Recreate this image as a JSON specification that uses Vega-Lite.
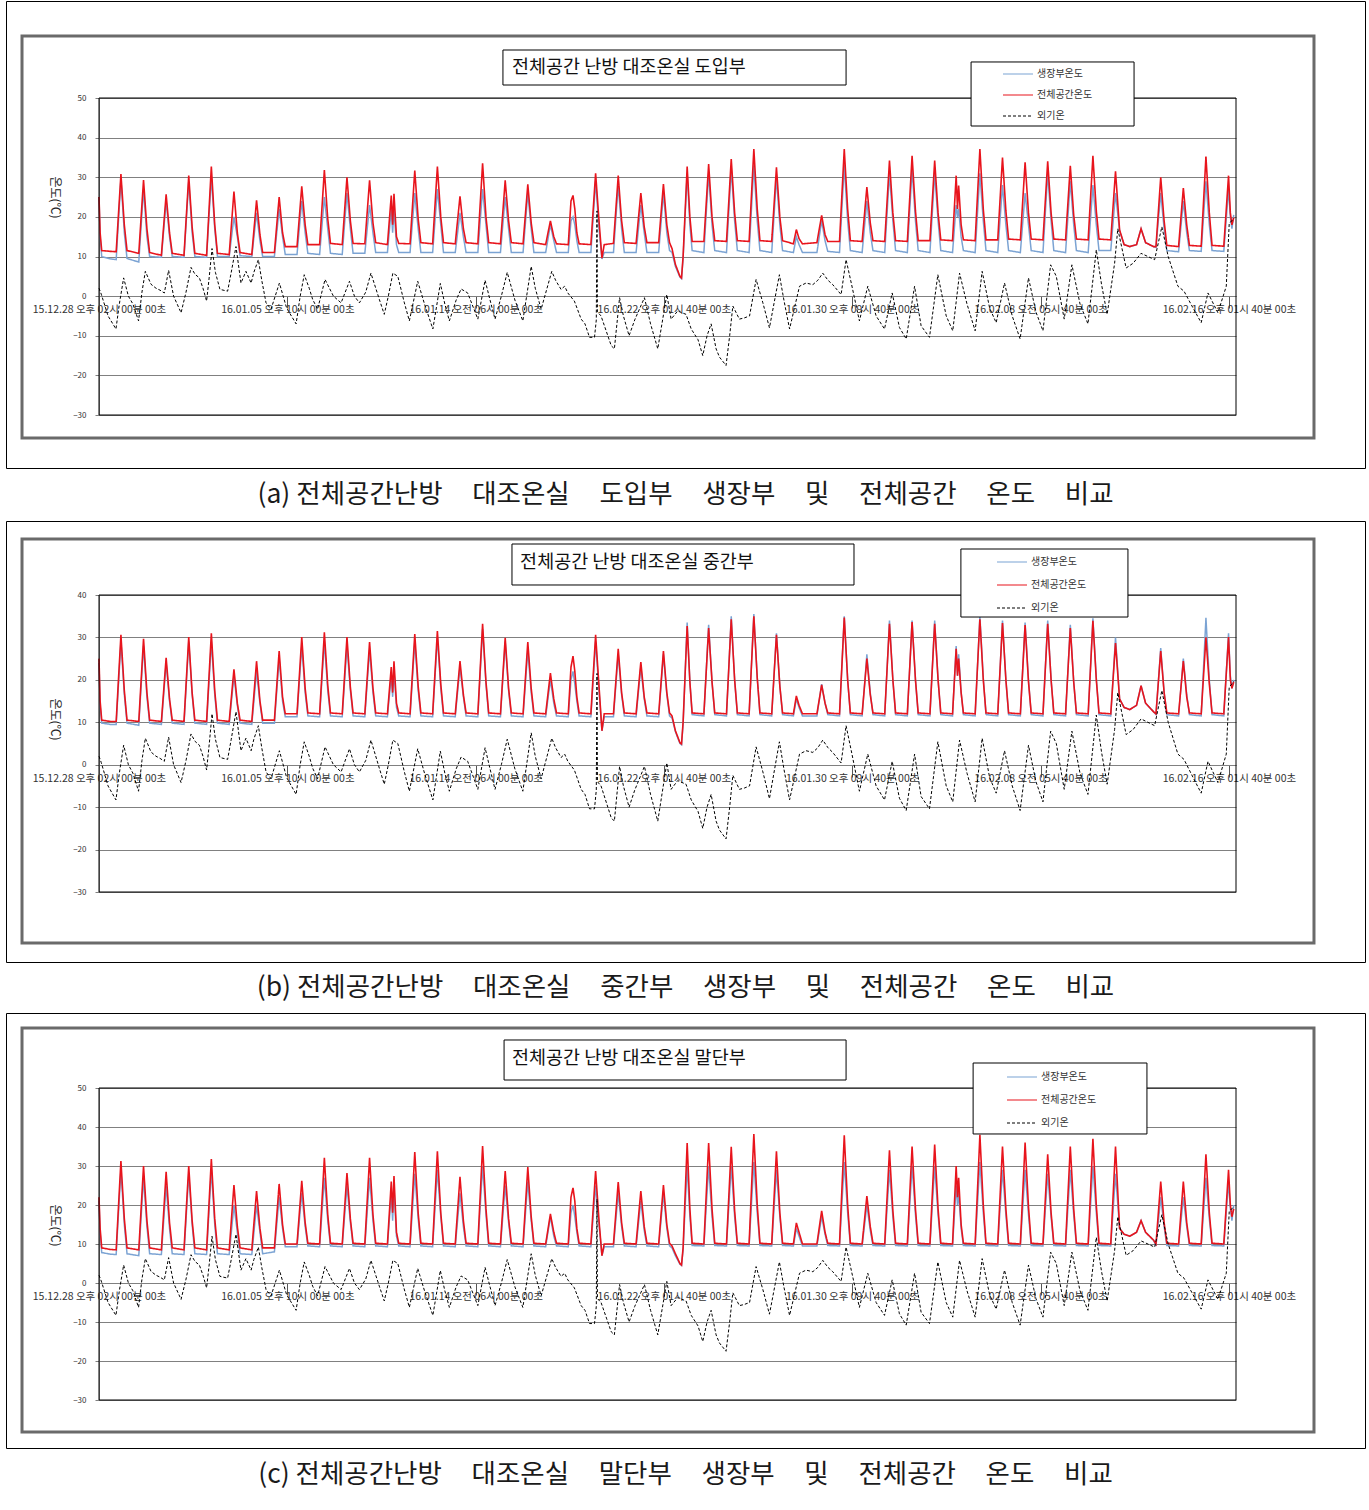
{
"$schema": "https://vega.github.io/schema/vega-lite/v6.json",
"background": "white",
"padding": {"left": 5, "right": 5, "top": 0, "bottom": 10},
"bounds": "flush",
"spacing": 0,
"config": {"font": "Noto Sans CJK KR", "view": {"stroke": "#000000", "strokeWidth": 1}},
"resolve": {"scale": {"color": "independent", "strokeDash": "independent"}, "legend": {"color": "independent", "strokeDash": "independent"}},
"datasets": {
"indoor": [
{"t":0,"ar":25,"ab":25,"br":25,"bb":24,"cr":22,"cb":21},
{"t":0.05,"ar":16,"ab":15,"br":15,"bb":14,"cr":14,"cb":13},
{"t":0.12,"ar":11.5,"ab":10,"br":10.5,"bb":9.8,"cr":9,"cb":7.8},
{"t":0.5,"ar":11.3,"ab":9.4,"br":10.2,"bb":9.5,"cr":8.6,"cb":7.4},
{"t":0.76,"ar":11.2,"ab":9.2,"br":10.2,"bb":9.5,"cr":8.5,"cb":7.3},
{"t":0.97,"ar":30.8,"ab":29.5,"br":30.6,"bb":29,"cr":31.3,"cb":29},
{"t":1.12,"ar":18,"ab":16,"br":17.5,"bb":16.5,"cr":16.5,"cb":15},
{"t":1.24,"ar":11.5,"ab":9.5,"br":10.5,"bb":9.8,"cr":9,"cb":7.5},
{"t":1.76,"ar":10.8,"ab":8.6,"br":10.2,"bb":9.3,"cr":8.5,"cb":7},
{"t":1.97,"ar":29.3,"ab":27,"br":29.7,"bb":28,"cr":30,"cb":27},
{"t":2.12,"ar":17,"ab":15,"br":17,"bb":16,"cr":16,"cb":14.5},
{"t":2.24,"ar":11,"ab":10,"br":10.5,"bb":9.8,"cr":9,"cb":7.5},
{"t":2.76,"ar":10.3,"ab":9.8,"br":10.2,"bb":9.5,"cr":8.5,"cb":7.3},
{"t":2.97,"ar":25.7,"ab":24,"br":25.2,"bb":24,"cr":28.5,"cb":25},
{"t":3.12,"ar":16,"ab":15,"br":15.5,"bb":15,"cr":15.5,"cb":14},
{"t":3.24,"ar":10.8,"ab":10,"br":10.5,"bb":9.8,"cr":9,"cb":7.5},
{"t":3.76,"ar":10.3,"ab":9.8,"br":10.2,"bb":9.5,"cr":8.5,"cb":7.3},
{"t":3.97,"ar":30.4,"ab":29,"br":30.1,"bb":29,"cr":30,"cb":28},
{"t":4.12,"ar":17.5,"ab":16,"br":17,"bb":16.5,"cr":16,"cb":15},
{"t":4.24,"ar":10.8,"ab":10,"br":10.5,"bb":9.8,"cr":9,"cb":7.5},
{"t":4.76,"ar":10.3,"ab":9.8,"br":10.2,"bb":9.5,"cr":8.5,"cb":7.3},
{"t":4.97,"ar":32.7,"ab":30,"br":31,"bb":29,"cr":31.8,"cb":29},
{"t":5.12,"ar":18,"ab":17,"br":17.5,"bb":16.5,"cr":16.5,"cb":15},
{"t":5.24,"ar":10.8,"ab":10,"br":10.5,"bb":9.8,"cr":9,"cb":7.5},
{"t":5.76,"ar":10.5,"ab":10,"br":10.2,"bb":9.5,"cr":8.5,"cb":7.3},
{"t":5.97,"ar":26.4,"ab":20,"br":22.5,"bb":21,"cr":25.1,"cb":20},
{"t":6.12,"ar":16,"ab":15,"br":14.5,"bb":14,"cr":14.5,"cb":13},
{"t":6.24,"ar":11,"ab":10.2,"br":10.5,"bb":9.8,"cr":9,"cb":7.5},
{"t":6.76,"ar":10.5,"ab":10,"br":10.2,"bb":9.5,"cr":8.5,"cb":7.3},
{"t":6.97,"ar":24.2,"ab":21,"br":24.4,"bb":22,"cr":23.6,"cb":20},
{"t":7.12,"ar":15.5,"ab":14,"br":15,"bb":14.5,"cr":14,"cb":13},
{"t":7.24,"ar":11,"ab":10,"br":10.5,"bb":9.8,"cr":9,"cb":7.5},
{"t":7.76,"ar":11,"ab":10,"br":10.5,"bb":9.8,"cr":9,"cb":8},
{"t":7.97,"ar":25,"ab":22,"br":26.8,"bb":25,"cr":25.4,"cb":22},
{"t":8.12,"ar":16,"ab":15,"br":16,"bb":15,"cr":15,"cb":14},
{"t":8.24,"ar":12.5,"ab":10.5,"br":12,"bb":11.3,"cr":10,"cb":9.3},
{"t":8.76,"ar":12.5,"ab":10.5,"br":12,"bb":11.3,"cr":10,"cb":9.3},
{"t":8.97,"ar":27.7,"ab":24,"br":30.1,"bb":28,"cr":26.2,"cb":23},
{"t":9.12,"ar":18,"ab":16,"br":18,"bb":17,"cr":15.5,"cb":14.5},
{"t":9.24,"ar":13,"ab":10.8,"br":12.2,"bb":11.5,"cr":10.2,"cb":9.5},
{"t":9.76,"ar":13,"ab":10.5,"br":12,"bb":11.3,"cr":10,"cb":9.3},
{"t":9.97,"ar":31.8,"ab":25,"br":31.2,"bb":29,"cr":32.1,"cb":27},
{"t":10.12,"ar":19.5,"ab":17,"br":18.7,"bb":17.5,"cr":17.5,"cb":16},
{"t":10.24,"ar":13.3,"ab":10.8,"br":12.2,"bb":11.5,"cr":10.2,"cb":9.5},
{"t":10.76,"ar":13,"ab":10.5,"br":12,"bb":11.3,"cr":10,"cb":9.3},
{"t":10.97,"ar":30,"ab":26,"br":30.1,"bb":28,"cr":28.2,"cb":25},
{"t":11.12,"ar":19,"ab":17,"br":18.3,"bb":17.5,"cr":16.5,"cb":15.5},
{"t":11.24,"ar":13.3,"ab":10.8,"br":12.2,"bb":11.5,"cr":10.2,"cb":9.5},
{"t":11.76,"ar":13.2,"ab":10.8,"br":12,"bb":11.3,"cr":10,"cb":9.3},
{"t":11.97,"ar":29.2,"ab":23,"br":28.9,"bb":27,"cr":32.1,"cb":27},
{"t":12.12,"ar":18.5,"ab":16,"br":18,"bb":17,"cr":17.5,"cb":16},
{"t":12.24,"ar":13.5,"ab":11,"br":12.2,"bb":11.5,"cr":10.2,"cb":9.5},
{"t":12.76,"ar":13,"ab":11,"br":12,"bb":11.3,"cr":10,"cb":9.3},
{"t":12.93,"ar":25.4,"ab":22,"br":23,"bb":21,"cr":26,"cb":23},
{"t":12.99,"ar":18,"ab":16,"br":17,"bb":16,"cr":18,"cb":16},
{"t":13.05,"ar":25.8,"ab":22,"br":24.4,"bb":22,"cr":27.4,"cb":24},
{"t":13.16,"ar":15,"ab":13,"br":14.5,"bb":13.5,"cr":13,"cb":12},
{"t":13.26,"ar":13.3,"ab":11,"br":12.2,"bb":11.5,"cr":10.2,"cb":9.5},
{"t":13.76,"ar":13.2,"ab":11,"br":12,"bb":11.3,"cr":10,"cb":9.3},
{"t":13.97,"ar":31.7,"ab":26,"br":30.8,"bb":29,"cr":33.6,"cb":28},
{"t":14.12,"ar":19.5,"ab":17,"br":18.5,"bb":17.5,"cr":18,"cb":16.5},
{"t":14.24,"ar":13.5,"ab":11,"br":12.2,"bb":11.5,"cr":10.2,"cb":9.5},
{"t":14.76,"ar":13.2,"ab":11,"br":12,"bb":11.3,"cr":10,"cb":9.3},
{"t":14.97,"ar":32.7,"ab":27,"br":31.5,"bb":30,"cr":33.8,"cb":29},
{"t":15.12,"ar":20,"ab":18,"br":19,"bb":18,"cr":18,"cb":17},
{"t":15.24,"ar":13.5,"ab":11,"br":12.2,"bb":11.5,"cr":10.2,"cb":9.5},
{"t":15.76,"ar":13.2,"ab":11,"br":12,"bb":11.3,"cr":10,"cb":9.3},
{"t":15.97,"ar":25.2,"ab":21,"br":24.4,"bb":23,"cr":27.2,"cb":23},
{"t":16.12,"ar":17,"ab":15,"br":16.5,"bb":16,"cr":16,"cb":14.5},
{"t":16.24,"ar":13.5,"ab":11,"br":12.2,"bb":11.5,"cr":10.2,"cb":9.5},
{"t":16.76,"ar":13.2,"ab":11,"br":12,"bb":11.3,"cr":10,"cb":9.3},
{"t":16.97,"ar":33.5,"ab":27,"br":33.2,"bb":32,"cr":35.1,"cb":30},
{"t":17.12,"ar":20,"ab":18,"br":19.5,"bb":19,"cr":19,"cb":17.5},
{"t":17.24,"ar":13.5,"ab":11,"br":12.2,"bb":11.5,"cr":10.2,"cb":9.5},
{"t":17.76,"ar":13.2,"ab":11,"br":12,"bb":11.3,"cr":10,"cb":9.3},
{"t":17.97,"ar":29.2,"ab":25,"br":29.9,"bb":29,"cr":28.7,"cb":25},
{"t":18.12,"ar":19,"ab":17,"br":18,"bb":17.5,"cr":16.5,"cb":15.5},
{"t":18.24,"ar":13.5,"ab":11,"br":12.2,"bb":11.5,"cr":10.2,"cb":9.5},
{"t":18.76,"ar":13.2,"ab":11,"br":12,"bb":11.3,"cr":10,"cb":9.3},
{"t":18.97,"ar":28.2,"ab":26,"br":28.9,"bb":27,"cr":29.7,"cb":26},
{"t":19.12,"ar":18.5,"ab":17,"br":18,"bb":17,"cr":17,"cb":16},
{"t":19.24,"ar":13.5,"ab":11,"br":12.2,"bb":11.5,"cr":10.2,"cb":9.5},
{"t":19.76,"ar":13,"ab":11,"br":12,"bb":11.3,"cr":10,"cb":9.3},
{"t":19.97,"ar":19,"ab":18,"br":21.6,"bb":20,"cr":17.7,"cb":17},
{"t":20.12,"ar":15,"ab":14,"br":15.5,"bb":14.5,"cr":13,"cb":12},
{"t":20.24,"ar":13.2,"ab":11,"br":12.2,"bb":11.5,"cr":10.2,"cb":9.5},
{"t":20.76,"ar":13,"ab":11,"br":12,"bb":11.3,"cr":10,"cb":9.3},
{"t":20.88,"ar":24,"ab":19,"br":23,"bb":20,"cr":22,"cb":18},
{"t":20.97,"ar":25.4,"ab":20,"br":25.6,"bb":22,"cr":24.4,"cb":20},
{"t":21.05,"ar":22,"ab":18,"br":22,"bb":19,"cr":21,"cb":17},
{"t":21.14,"ar":16,"ab":14,"br":16,"bb":15,"cr":14,"cb":13},
{"t":21.24,"ar":13.2,"ab":11,"br":12.2,"bb":11.5,"cr":10.2,"cb":9.5},
{"t":21.76,"ar":13,"ab":11,"br":12,"bb":11.3,"cr":10,"cb":9.3},
{"t":21.97,"ar":31,"ab":29,"br":30.6,"bb":29,"cr":28.7,"cb":25},
{"t":22.12,"ar":19,"ab":17,"br":18.5,"bb":17.5,"cr":16,"cb":15},
{"t":22.25,"ar":9.6,"ab":9.4,"br":8,"bb":8,"cr":7,"cb":7},
{"t":22.35,"ar":13,"ab":11,"br":12,"bb":11.3,"cr":10,"cb":9.3},
{"t":22.76,"ar":13.3,"ab":11,"br":12,"bb":11.3,"cr":10,"cb":9.3},
{"t":22.97,"ar":30.4,"ab":28,"br":27.3,"bb":26,"cr":25.9,"cb":23},
{"t":23.12,"ar":19,"ab":17,"br":17,"bb":16.5,"cr":15.5,"cb":14.5},
{"t":23.24,"ar":13.5,"ab":11,"br":12.2,"bb":11.5,"cr":10.2,"cb":9.5},
{"t":23.76,"ar":13.3,"ab":11,"br":12,"bb":11.3,"cr":10,"cb":9.3},
{"t":23.97,"ar":26,"ab":23,"br":24.2,"bb":23,"cr":23.6,"cb":21},
{"t":24.12,"ar":17.5,"ab":16,"br":16,"bb":15.5,"cr":14.5,"cb":13.5},
{"t":24.24,"ar":13.5,"ab":11,"br":12.2,"bb":11.5,"cr":10.2,"cb":9.5},
{"t":24.76,"ar":13.5,"ab":11,"br":12,"bb":11.3,"cr":10,"cb":9.3},
{"t":24.97,"ar":28.3,"ab":26,"br":26.8,"bb":26,"cr":25.1,"cb":23},
{"t":25.12,"ar":18,"ab":16,"br":17,"bb":16.5,"cr":15,"cb":14},
{"t":25.24,"ar":13.5,"ab":11.5,"br":12.2,"bb":11.5,"cr":10.2,"cb":9.5},
{"t":25.35,"ar":12,"ab":11,"br":11.5,"bb":11,"cr":9.5,"cb":9},
{"t":25.5,"ar":8,"ab":7.5,"br":8,"bb":7.8,"cr":7.5,"cb":7},
{"t":25.7,"ar":5,"ab":4.8,"br":5.2,"bb":5,"cr":5,"cb":4.8},
{"t":25.77,"ar":4.6,"ab":4.4,"br":4.9,"bb":4.7,"cr":4.6,"cb":4.5},
{"t":25.84,"ar":10,"ab":9.5,"br":10,"bb":9.5,"cr":9,"cb":8.5},
{"t":26.02,"ar":32.7,"ab":31,"br":32.7,"bb":33.5,"cr":35.9,"cb":30},
{"t":26.14,"ar":20,"ab":18,"br":19.5,"bb":19.5,"cr":19,"cb":17},
{"t":26.24,"ar":13.8,"ab":11.5,"br":12.2,"bb":11.8,"cr":10.2,"cb":9.6},
{"t":26.76,"ar":13.8,"ab":11,"br":12,"bb":11.5,"cr":10,"cb":9.5},
{"t":26.97,"ar":33.3,"ab":31,"br":32.2,"bb":33,"cr":35.9,"cb":30},
{"t":27.12,"ar":20,"ab":18,"br":19.5,"bb":19.5,"cr":19,"cb":17},
{"t":27.24,"ar":14,"ab":11.5,"br":12.2,"bb":11.8,"cr":10.2,"cb":9.6},
{"t":27.76,"ar":13.8,"ab":11,"br":12,"bb":11.5,"cr":10,"cb":9.5},
{"t":27.97,"ar":34.6,"ab":32,"br":34.3,"bb":35,"cr":34.9,"cb":30},
{"t":28.12,"ar":21,"ab":19,"br":20,"bb":20,"cr":18.5,"cb":17},
{"t":28.24,"ar":14,"ab":11.5,"br":12.2,"bb":11.8,"cr":10.2,"cb":9.6},
{"t":28.76,"ar":13.8,"ab":11,"br":12,"bb":11.5,"cr":10,"cb":9.5},
{"t":28.97,"ar":37.1,"ab":33,"br":35,"bb":35.5,"cr":38.2,"cb":31},
{"t":29.12,"ar":22,"ab":19,"br":20.5,"bb":20.5,"cr":20,"cb":18},
{"t":29.24,"ar":14,"ab":11.5,"br":12.2,"bb":11.8,"cr":10.2,"cb":9.6},
{"t":29.76,"ar":13.8,"ab":11,"br":12,"bb":11.5,"cr":10,"cb":9.5},
{"t":29.97,"ar":32.5,"ab":30,"br":30.6,"bb":31,"cr":33.8,"cb":29},
{"t":30.12,"ar":20,"ab":18,"br":18.5,"bb":18.5,"cr":18,"cb":17},
{"t":30.24,"ar":14,"ab":11.5,"br":12.2,"bb":11.8,"cr":10.2,"cb":9.6},
{"t":30.72,"ar":13.2,"ab":11,"br":12,"bb":11.5,"cr":10,"cb":9.5},
{"t":30.85,"ar":16.8,"ab":15,"br":16.2,"bb":15.5,"cr":15.4,"cb":14},
{"t":30.97,"ar":14.5,"ab":13,"br":14,"bb":13.5,"cr":13,"cb":12},
{"t":31.12,"ar":13.2,"ab":11,"br":12,"bb":11.5,"cr":10,"cb":9.5},
{"t":31.76,"ar":13.5,"ab":11,"br":12,"bb":11.5,"cr":10,"cb":9.5},
{"t":31.97,"ar":20.4,"ab":19,"br":18.8,"bb":19,"cr":18.5,"cb":17},
{"t":32.12,"ar":15.5,"ab":14,"br":14.5,"bb":14.5,"cr":13,"cb":12.5},
{"t":32.24,"ar":13.8,"ab":11.3,"br":12.2,"bb":11.8,"cr":10.2,"cb":9.6},
{"t":32.76,"ar":13.8,"ab":11,"br":12,"bb":11.5,"cr":10,"cb":9.5},
{"t":32.97,"ar":37.1,"ab":33,"br":34.7,"bb":35,"cr":37.9,"cb":31},
{"t":33.12,"ar":22,"ab":19,"br":20,"bb":20,"cr":20,"cb":18},
{"t":33.24,"ar":14,"ab":11.5,"br":12.2,"bb":11.8,"cr":10.2,"cb":9.6},
{"t":33.76,"ar":13.8,"ab":11,"br":12,"bb":11.5,"cr":10,"cb":9.5},
{"t":33.97,"ar":27.5,"ab":24,"br":25,"bb":26,"cr":22.3,"cb":20},
{"t":34.12,"ar":18.5,"ab":16,"br":16.5,"bb":17,"cr":14.5,"cb":13.5},
{"t":34.24,"ar":14,"ab":11.5,"br":12.2,"bb":11.8,"cr":10.2,"cb":9.6},
{"t":34.76,"ar":13.8,"ab":11,"br":12,"bb":11.5,"cr":10,"cb":9.5},
{"t":34.97,"ar":34.2,"ab":31,"br":33.2,"bb":34,"cr":34,"cb":29},
{"t":35.12,"ar":21,"ab":19,"br":20,"bb":20,"cr":18.5,"cb":17},
{"t":35.24,"ar":14,"ab":11.5,"br":12.2,"bb":11.8,"cr":10.2,"cb":9.6},
{"t":35.76,"ar":13.8,"ab":11,"br":12,"bb":11.5,"cr":10,"cb":9.5},
{"t":35.97,"ar":35.4,"ab":32,"br":33.6,"bb":34,"cr":35,"cb":30},
{"t":36.12,"ar":21.5,"ab":19,"br":20,"bb":20,"cr":19,"cb":17.5},
{"t":36.24,"ar":14,"ab":11.5,"br":12.2,"bb":11.8,"cr":10.2,"cb":9.6},
{"t":36.76,"ar":14,"ab":11,"br":12,"bb":11.5,"cr":10,"cb":9.5},
{"t":36.97,"ar":34.2,"ab":31,"br":33.2,"bb":34,"cr":35.5,"cb":30},
{"t":37.12,"ar":21,"ab":19,"br":20,"bb":20,"cr":19,"cb":17.5},
{"t":37.24,"ar":14.2,"ab":11.5,"br":12.2,"bb":11.8,"cr":10.2,"cb":9.6},
{"t":37.76,"ar":14,"ab":11,"br":12,"bb":11.5,"cr":10,"cb":9.5},
{"t":37.92,"ar":30.4,"ab":23,"br":27.3,"bb":28,"cr":30,"cb":25},
{"t":37.98,"ar":22,"ab":20,"br":21,"bb":21,"cr":22,"cb":20},
{"t":38.03,"ar":27.9,"ab":22,"br":25,"bb":26,"cr":27,"cb":23},
{"t":38.14,"ar":18,"ab":15,"br":17,"bb":17,"cr":15,"cb":14},
{"t":38.24,"ar":14.2,"ab":11.5,"br":12.2,"bb":11.8,"cr":10.2,"cb":9.6},
{"t":38.76,"ar":14,"ab":11,"br":12,"bb":11.5,"cr":10,"cb":9.5},
{"t":38.97,"ar":37.1,"ab":31,"br":34.3,"bb":35,"cr":38,"cb":31},
{"t":39.12,"ar":22,"ab":19,"br":20,"bb":20.5,"cr":20,"cb":18},
{"t":39.24,"ar":14.2,"ab":11.5,"br":12.2,"bb":11.8,"cr":10.2,"cb":9.6},
{"t":39.76,"ar":14.2,"ab":11,"br":12,"bb":11.5,"cr":10,"cb":9.5},
{"t":39.97,"ar":35,"ab":28,"br":33.4,"bb":34,"cr":35,"cb":29},
{"t":40.12,"ar":21.5,"ab":18,"br":20,"bb":20,"cr":19,"cb":17.5},
{"t":40.24,"ar":14.4,"ab":11.5,"br":12.2,"bb":11.8,"cr":10.2,"cb":9.6},
{"t":40.76,"ar":14.2,"ab":11,"br":12,"bb":11.5,"cr":10,"cb":9.5},
{"t":40.97,"ar":33.8,"ab":26,"br":32.9,"bb":33.5,"cr":36,"cb":29},
{"t":41.12,"ar":21,"ab":18,"br":19.5,"bb":20,"cr":19.5,"cb":17.5},
{"t":41.24,"ar":14.4,"ab":11.5,"br":12.2,"bb":11.8,"cr":10.2,"cb":9.6},
{"t":41.76,"ar":14.2,"ab":11,"br":12,"bb":11.5,"cr":10,"cb":9.5},
{"t":41.97,"ar":34,"ab":31,"br":33.2,"bb":34,"cr":33,"cb":28},
{"t":42.12,"ar":21,"ab":19,"br":20,"bb":20,"cr":18,"cb":17},
{"t":42.24,"ar":14.4,"ab":11.5,"br":12.2,"bb":11.8,"cr":10.2,"cb":9.6},
{"t":42.76,"ar":14.2,"ab":11,"br":12,"bb":11.5,"cr":10,"cb":9.5},
{"t":42.97,"ar":32.9,"ab":29,"br":32.2,"bb":33,"cr":35,"cb":29},
{"t":43.12,"ar":20.5,"ab":18,"br":19.5,"bb":19.5,"cr":19,"cb":17.5},
{"t":43.24,"ar":14.4,"ab":11.5,"br":12.2,"bb":11.8,"cr":10.2,"cb":9.6},
{"t":43.76,"ar":14.2,"ab":11,"br":12,"bb":11.5,"cr":10,"cb":9.5},
{"t":43.97,"ar":35.4,"ab":28,"br":33.9,"bb":34.5,"cr":37,"cb":30},
{"t":44.12,"ar":21.5,"ab":18,"br":20,"bb":20.5,"cr":20,"cb":18},
{"t":44.24,"ar":14.4,"ab":11.5,"br":12.2,"bb":11.8,"cr":10.2,"cb":9.6},
{"t":44.76,"ar":14.2,"ab":11.5,"br":12,"bb":11.5,"cr":10,"cb":9.5},
{"t":44.97,"ar":31.5,"ab":26,"br":28.7,"bb":30,"cr":35,"cb":28},
{"t":45.15,"ar":16.7,"ab":16.5,"br":15.5,"bb":15.5,"cr":14,"cb":14},
{"t":45.35,"ar":13,"ab":13,"br":13.5,"bb":13.5,"cr":12.5,"cb":12.5},
{"t":45.6,"ar":12.5,"ab":12.5,"br":13,"bb":13,"cr":12,"cb":12},
{"t":45.9,"ar":13,"ab":13,"br":14,"bb":14,"cr":13,"cb":13},
{"t":46.1,"ar":17,"ab":17,"br":18.6,"bb":18.6,"cr":16,"cb":16},
{"t":46.3,"ar":13.5,"ab":13.5,"br":14.5,"bb":14.5,"cr":13,"cb":13},
{"t":46.65,"ar":12.5,"ab":12.5,"br":12.5,"bb":12.5,"cr":11,"cb":11},
{"t":46.76,"ar":12.5,"ab":12.3,"br":12,"bb":11.8,"cr":10,"cb":9.5},
{"t":46.97,"ar":30,"ab":26,"br":26.8,"bb":27.5,"cr":26,"cb":22},
{"t":47.12,"ar":19,"ab":17,"br":17,"bb":17,"cr":15.5,"cb":14.5},
{"t":47.24,"ar":12.8,"ab":11.5,"br":12.2,"bb":11.8,"cr":10.2,"cb":9.6},
{"t":47.76,"ar":12.5,"ab":11.2,"br":12,"bb":11.5,"cr":10,"cb":9.5},
{"t":47.97,"ar":27.3,"ab":24,"br":24.4,"bb":25,"cr":26,"cb":22},
{"t":48.12,"ar":18,"ab":16,"br":16,"bb":16.5,"cr":15.5,"cb":14.5},
{"t":48.24,"ar":12.8,"ab":11.5,"br":12.2,"bb":11.8,"cr":10.2,"cb":9.6},
{"t":48.76,"ar":12.6,"ab":11.3,"br":12,"bb":11.5,"cr":10,"cb":9.5},
{"t":48.97,"ar":35.2,"ab":29,"br":30,"bb":34.6,"cr":33,"cb":27},
{"t":49.12,"ar":21,"ab":18,"br":19,"bb":20,"cr":18,"cb":16.5},
{"t":49.24,"ar":12.8,"ab":11.5,"br":12.2,"bb":11.8,"cr":10.2,"cb":9.6},
{"t":49.76,"ar":12.6,"ab":11.3,"br":12,"bb":11.5,"cr":10,"cb":9.5},
{"t":49.97,"ar":30.4,"ab":27,"br":30.1,"bb":31,"cr":29,"cb":26},
{"t":50.05,"ar":21,"ab":20,"br":20,"bb":21,"cr":20,"cb":19},
{"t":50.12,"ar":18,"ab":17,"br":18,"bb":18,"cr":17,"cb":16},
{"t":50.2,"ar":19.8,"ab":20.5,"br":19.5,"bb":20,"cr":19,"cb":20}
],
"outdoor": [
{"t":0,"v":2},{"t":0.1,"v":0.5},{"t":0.4,"v":-5},{"t":0.75,"v":-8.3},{"t":0.9,"v":-2},{"t":1.09,"v":4.6},{"t":1.3,"v":0},{"t":1.5,"v":-2},{"t":1.75,"v":-6.25},{"t":1.9,"v":1},
{"t":2.05,"v":6.25},{"t":2.3,"v":3},{"t":2.52,"v":2},{"t":2.7,"v":1.5},{"t":2.89,"v":0.8},{"t":3.08,"v":6.5},{"t":3.3,"v":0},{"t":3.63,"v":-4.2},{"t":3.85,"v":1},{"t":4.07,"v":7.25},
{"t":4.25,"v":5.5},{"t":4.44,"v":4.6},{"t":4.6,"v":2},{"t":4.76,"v":-1.25},{"t":4.88,"v":5},{"t":5.0,"v":12},{"t":5.15,"v":6},{"t":5.35,"v":1.7},{"t":5.69,"v":1.25},{"t":5.85,"v":6},
{"t":6.06,"v":12.5},{"t":6.28,"v":3.3},{"t":6.5,"v":6.25},{"t":6.73,"v":3.3},{"t":6.85,"v":6},{"t":7.05,"v":9.2},{"t":7.2,"v":4},{"t":7.39,"v":-1.7},{"t":7.61,"v":-3.3},{"t":7.98,"v":3.3},
{"t":8.3,"v":-3},{"t":8.72,"v":-7},{"t":8.9,"v":0},{"t":9.08,"v":5.4},{"t":9.3,"v":2},{"t":9.45,"v":-0.8},{"t":9.67,"v":-3.3},{"t":10.0,"v":4.2},{"t":10.37,"v":0},{"t":10.71,"v":-1.7},
{"t":11.08,"v":3.75},{"t":11.3,"v":0},{"t":11.52,"v":-1.7},{"t":11.8,"v":1},{"t":12.03,"v":5.8},{"t":12.4,"v":-0.8},{"t":12.62,"v":-4.6},{"t":12.8,"v":0},{"t":13.0,"v":5.8},{"t":13.22,"v":5},
{"t":13.5,"v":-1.5},{"t":13.73,"v":-6.25},{"t":14.1,"v":3.75},{"t":14.4,"v":-2},{"t":14.77,"v":-8.3},{"t":15.1,"v":3.2},{"t":15.3,"v":-2},{"t":15.5,"v":-6.25},{"t":15.8,"v":-1},{"t":16.02,"v":1.8},
{"t":16.31,"v":0.8},{"t":16.5,"v":-2},{"t":16.76,"v":-5.8},{"t":17.08,"v":4},{"t":17.3,"v":-1},{"t":17.52,"v":-5.8},{"t":17.8,"v":0},{"t":18.06,"v":6},{"t":18.4,"v":-1},{"t":18.75,"v":-6.25},
{"t":19.12,"v":7.5},{"t":19.3,"v":2},{"t":19.56,"v":-3.3},{"t":20.03,"v":6.25},{"t":20.2,"v":4},{"t":20.44,"v":1.7},{"t":20.6,"v":2.5},{"t":20.74,"v":0.8},{"t":21.03,"v":-1.25},{"t":21.33,"v":-5.8},
{"t":21.5,"v":-7},{"t":21.7,"v":-10.4},{"t":21.92,"v":-10.4},{"t":22.0,"v":-6},{"t":22.03,"v":21.5},{"t":22.05,"v":-4},{"t":22.21,"v":-5},{"t":22.45,"v":-9},{"t":22.66,"v":-12.5},{"t":22.8,"v":-13.3},
{"t":23.03,"v":-0.4},{"t":23.2,"v":-5},{"t":23.45,"v":-10},{"t":23.7,"v":-6},{"t":24.13,"v":-0.4},{"t":24.4,"v":-7},{"t":24.72,"v":-13.3},{"t":25.12,"v":0.4},{"t":25.31,"v":-5.8},{"t":25.6,"v":-3.75},
{"t":25.97,"v":-4.6},{"t":26.2,"v":-8.3},{"t":26.5,"v":-11},{"t":26.71,"v":-15},{"t":26.9,"v":-10},{"t":27.08,"v":-7},{"t":27.3,"v":-13.3},{"t":27.45,"v":-15.4},{"t":27.74,"v":-17.5},{"t":27.9,"v":-10},
{"t":28.04,"v":-2.5},{"t":28.33,"v":-5.8},{"t":28.55,"v":-5.5},{"t":28.78,"v":-5},{"t":29.07,"v":4.2},{"t":29.37,"v":-1.7},{"t":29.66,"v":-8},{"t":30.1,"v":5.4},{"t":30.3,"v":-1},{"t":30.55,"v":-8.3},
{"t":30.99,"v":2.5},{"t":31.28,"v":3.3},{"t":31.58,"v":2.9},{"t":31.8,"v":4},{"t":32.02,"v":5.8},{"t":32.25,"v":4},{"t":32.46,"v":2.9},{"t":32.83,"v":0.4},{"t":33.05,"v":9.2},{"t":33.28,"v":3.3},
{"t":33.64,"v":-6.25},{"t":34.01,"v":2.5},{"t":34.38,"v":-5},{"t":34.75,"v":-8.3},{"t":35.09,"v":0.8},{"t":35.41,"v":-7.9},{"t":35.71,"v":-10.8},{"t":36.08,"v":2.5},{"t":36.37,"v":-7.5},{"t":36.74,"v":-10.4},
{"t":37.11,"v":5.4},{"t":37.48,"v":-5},{"t":37.77,"v":-8.75},{"t":38.07,"v":5.8},{"t":38.4,"v":-2},{"t":38.76,"v":-8.75},{"t":39.07,"v":6.25},{"t":39.4,"v":-3},{"t":39.69,"v":-6.7},{"t":40.06,"v":3.3},
{"t":40.4,"v":-5},{"t":40.75,"v":-10.8},{"t":41.12,"v":4.6},{"t":41.45,"v":-4},{"t":41.76,"v":-8.75},{"t":42.1,"v":7.9},{"t":42.35,"v":5},{"t":42.7,"v":-5.8},{"t":43.04,"v":7.9},{"t":43.4,"v":-2},
{"t":43.75,"v":-7},{"t":44.12,"v":11.7},{"t":44.35,"v":3},{"t":44.6,"v":-4.6},{"t":44.93,"v":8.3},{"t":45.07,"v":17},{"t":45.44,"v":7.1},{"t":45.75,"v":8.3},{"t":46.1,"v":10.8},{"t":46.7,"v":9.2},
{"t":47.02,"v":17.5},{"t":47.3,"v":10},{"t":47.73,"v":2.5},{"t":48.0,"v":1.25},{"t":48.4,"v":-3},{"t":48.76,"v":-6.7},{"t":49.06,"v":0.8},{"t":49.5,"v":-4.2},{"t":49.87,"v":2.5},{"t":50.0,"v":18.3},{"t":50.2,"v":19.6}
]
},
"vconcat": [
{
"width": 1359, "height": 467,
"layer": [
{"data": {"name": "indoor"}, "mark": {"type": "line", "strokeWidth": 1.5},
 "encoding": {
  "x": {"field": "t", "type": "quantitative", "scale": {"domain": [0, 50.3], "range": [93, 1230], "nice": false, "zero": false},
   "axis": {"values": [0, 8.3333, 16.6667, 24.9861, 33.3194, 41.6528, 49.9861], "labelExpr": "datum.value < 4 ? '15.12.28 오후 02시 00분 00초' : datum.value < 12 ? '16.01.05 오후 10시 00분 00초' : datum.value < 20 ? '16.01.14 오전 06시 00분 00초' : datum.value < 29 ? '16.01.22 오후 01시 40분 00초' : datum.value < 37 ? '16.01.30 오후 09시 40분 00초' : datum.value < 45 ? '16.02.08 오전 05시 40분 00초' : '16.02.16 오후 01시 40분 00초'", "offset": -172, "grid": false, "domainColor": "#808080", "tickColor": "#555555", "tickSize": 12, "labelPadding": -4, "labelFontSize": 10.5, "labelColor": "#333333", "labelFlush": false, "labelOverlap": false, "labelBound": false, "title": ""}},
  "y": {"field": "ab", "type": "quantitative", "scale": {"domain": [-30, 50], "range": [414, 97], "nice": false, "zero": false},
   "axis": {"values": [-30, -20, -10, 0, 10, 20, 30, 40, 50], "offset": -93, "grid": true, "gridColor": "#808080", "domainColor": "#808080", "tickColor": "#808080", "tickSize": 4, "labelFontSize": 8, "labelColor": "#333333", "labelPadding": 9, "labelFlush": false, "title": "온도(℃)", "titleAngle": 90, "titleX": -45, "titleY": 196, "titleFontSize": 12, "titleFontWeight": "normal", "titleColor": "#222222", "titleAlign": "center", "titleBaseline": "middle"}},
  "color": {"datum": "생장부온도", "type": "nominal", "scale": {"domain": ["생장부온도", "전체공간온도", "외기온"], "range": ["#7ba3d3", "#e8141c", "#000000"]},
   "legend": {"orient": "none", "legendX": 996, "legendY": 57, "title": null, "symbolType": "stroke", "symbolSize": 900, "symbolStrokeWidth": 1.2, "labelFontSize": 10, "labelColor": "#333333", "rowPadding": 0, "labelOffset": 3, "padding": 0}},
  "strokeDash": {"datum": "생장부온도", "type": "nominal", "scale": {"domain": ["생장부온도", "전체공간온도", "외기온"], "range": [[1, 0], [1, 0], [3, 2]]}}
 }},
{"data": {"name": "indoor"}, "mark": {"type": "line", "strokeWidth": 1.6},
 "encoding": {"x": {"field": "t", "type": "quantitative"}, "y": {"field": "ar", "type": "quantitative"},
  "color": {"datum": "전체공간온도", "type": "nominal"}, "strokeDash": {"datum": "전체공간온도", "type": "nominal"}}},
{"data": {"name": "outdoor"}, "mark": {"type": "line", "strokeWidth": 1},
 "encoding": {"x": {"field": "t", "type": "quantitative"}, "y": {"field": "v", "type": "quantitative"},
  "color": {"datum": "외기온", "type": "nominal"}, "strokeDash": {"datum": "외기온", "type": "nominal"}}},
{"data": {"values": [{}]}, "mark": {"type": "rect", "filled": false, "stroke": "#6a6a6a", "strokeWidth": 3},
 "encoding": {"x": {"datum": -3.406, "type": "quantitative"}, "x2": {"datum": 53.75}, "y": {"datum": 65.65, "type": "quantitative"}, "y2": {"datum": -35.8}}},
{"data": {"values": [{}]}, "mark": {"type": "rect", "filled": false, "stroke": "#000000", "strokeWidth": 1},
 "encoding": {"x": {"datum": 0, "type": "quantitative"}, "x2": {"datum": 50.3}, "y": {"datum": -30, "type": "quantitative"}, "y2": {"datum": 50}}},
{"data": {"values": [{}]}, "mark": {"type": "rect", "fill": "white", "stroke": "#000000", "strokeWidth": 1},
 "encoding": {"x": {"datum": 17.87, "type": "quantitative"}, "x2": {"datum": 33.05}, "y": {"datum": 62.11, "type": "quantitative"}, "y2": {"datum": 53.28}}},
{"data": {"values": [{"label": "전체공간 난방 대조온실 도입부"}]}, "mark": {"type": "text", "align": "left", "baseline": "middle", "fontSize": 18.5, "color": "#111111"},
 "encoding": {"x": {"datum": 18.27, "type": "quantitative"}, "y": {"datum": 57.7, "type": "quantitative"}, "text": {"field": "label"}}},
{"data": {"values": [{}]}, "mark": {"type": "rect", "fill": "white", "stroke": "#000000", "strokeWidth": 1},
 "encoding": {"x": {"datum": 38.58, "type": "quantitative"}, "x2": {"datum": 45.79}, "y": {"datum": 59.09, "type": "quantitative"}, "y2": {"datum": 42.93}}}
]
},
{"width": 1359, "height": 53, "data": {"values": [{"c": "(a)  전체공간난방 \u00a0\u00a0\u00a0\u00a0대조온실 \u00a0\u00a0\u00a0\u00a0도입부 \u00a0\u00a0\u00a0\u00a0생장부 \u00a0\u00a0\u00a0\u00a0및 \u00a0\u00a0\u00a0\u00a0전체공간 \u00a0\u00a0\u00a0\u00a0온도 \u00a0\u00a0\u00a0\u00a0비교"}]},
 "mark": {"type": "text", "fontSize": 26.5, "color": "#1a1a1a"}, "encoding": {"text": {"field": "c"}}},
{
"width": 1359, "height": 441,
"layer": [
{"data": {"name": "indoor"}, "mark": {"type": "line", "strokeWidth": 1.5},
 "encoding": {
  "x": {"field": "t", "type": "quantitative", "scale": {"domain": [0, 50.3], "range": [93, 1230], "nice": false, "zero": false},
   "axis": {"values": [0, 8.3333, 16.6667, 24.9861, 33.3194, 41.6528, 49.9861], "labelExpr": "datum.value < 4 ? '15.12.28 오후 02시 00분 00초' : datum.value < 12 ? '16.01.05 오후 10시 00분 00초' : datum.value < 20 ? '16.01.14 오전 06시 00분 00초' : datum.value < 29 ? '16.01.22 오후 01시 40분 00초' : datum.value < 37 ? '16.01.30 오후 09시 40분 00초' : datum.value < 45 ? '16.02.08 오전 05시 40분 00초' : '16.02.16 오후 01시 40분 00초'", "offset": -197, "grid": false, "domainColor": "#808080", "tickColor": "#555555", "tickSize": 12, "labelPadding": -4, "labelFontSize": 10.5, "labelColor": "#333333", "labelFlush": false, "labelOverlap": false, "labelBound": false, "title": ""}},
  "y": {"field": "bb", "type": "quantitative", "scale": {"domain": [-30, 40], "range": [371, 74], "nice": false, "zero": false},
   "axis": {"values": [-30, -20, -10, 0, 10, 20, 30, 40], "offset": -93, "grid": true, "gridColor": "#808080", "domainColor": "#808080", "tickColor": "#808080", "tickSize": 4, "labelFontSize": 8, "labelColor": "#333333", "labelPadding": 9, "labelFlush": false, "title": "온도(℃)", "titleAngle": 90, "titleX": -45, "titleY": 198, "titleFontSize": 12, "titleFontWeight": "normal", "titleColor": "#222222", "titleAlign": "center", "titleBaseline": "middle"}},
  "color": {"datum": "생장부온도", "type": "nominal", "scale": {"domain": ["생장부온도", "전체공간온도", "외기온"], "range": ["#7ba3d3", "#e8141c", "#000000"]},
   "legend": {"orient": "none", "legendX": 990, "legendY": 25, "title": null, "symbolType": "stroke", "symbolSize": 900, "symbolStrokeWidth": 1.2, "labelFontSize": 10, "labelColor": "#333333", "rowPadding": 2, "labelOffset": 3, "padding": 0}},
  "strokeDash": {"datum": "생장부온도", "type": "nominal", "scale": {"domain": ["생장부온도", "전체공간온도", "외기온"], "range": [[1, 0], [1, 0], [3, 2]]}}
 }},
{"data": {"name": "indoor"}, "mark": {"type": "line", "strokeWidth": 1.6},
 "encoding": {"x": {"field": "t", "type": "quantitative"}, "y": {"field": "br", "type": "quantitative"},
  "color": {"datum": "전체공간온도", "type": "nominal"}, "strokeDash": {"datum": "전체공간온도", "type": "nominal"}}},
{"data": {"name": "outdoor"}, "mark": {"type": "line", "strokeWidth": 1},
 "encoding": {"x": {"field": "t", "type": "quantitative"}, "y": {"field": "v", "type": "quantitative"},
  "color": {"datum": "외기온", "type": "nominal"}, "strokeDash": {"datum": "외기온", "type": "nominal"}}},
{"data": {"values": [{}]}, "mark": {"type": "rect", "filled": false, "stroke": "#6a6a6a", "strokeWidth": 3},
 "encoding": {"x": {"datum": -3.406, "type": "quantitative"}, "x2": {"datum": 53.75}, "y": {"datum": 53.2, "type": "quantitative"}, "y2": {"datum": -42.02}}},
{"data": {"values": [{}]}, "mark": {"type": "rect", "filled": false, "stroke": "#000000", "strokeWidth": 1},
 "encoding": {"x": {"datum": 0, "type": "quantitative"}, "x2": {"datum": 50.3}, "y": {"datum": -30, "type": "quantitative"}, "y2": {"datum": 40}}},
{"data": {"values": [{}]}, "mark": {"type": "rect", "fill": "white", "stroke": "#000000", "strokeWidth": 1},
 "encoding": {"x": {"datum": 18.27, "type": "quantitative"}, "x2": {"datum": 33.4}, "y": {"datum": 52.02, "type": "quantitative"}, "y2": {"datum": 42.36}}},
{"data": {"values": [{"label": "전체공간 난방 대조온실 중간부"}]}, "mark": {"type": "text", "align": "left", "baseline": "middle", "fontSize": 18.5, "color": "#111111"},
 "encoding": {"x": {"datum": 18.63, "type": "quantitative"}, "y": {"datum": 47.78, "type": "quantitative"}, "text": {"field": "label"}}},
{"data": {"values": [{}]}, "mark": {"type": "rect", "fill": "white", "stroke": "#000000", "strokeWidth": 1},
 "encoding": {"x": {"datum": 38.13, "type": "quantitative"}, "x2": {"datum": 45.52}, "y": {"datum": 50.84, "type": "quantitative"}, "y2": {"datum": 34.81}}}
]
},
{"width": 1359, "height": 51, "data": {"values": [{"c": "(b)  전체공간난방 \u00a0\u00a0\u00a0\u00a0대조온실 \u00a0\u00a0\u00a0\u00a0중간부 \u00a0\u00a0\u00a0\u00a0생장부 \u00a0\u00a0\u00a0\u00a0및 \u00a0\u00a0\u00a0\u00a0전체공간 \u00a0\u00a0\u00a0\u00a0온도 \u00a0\u00a0\u00a0\u00a0비교"}]},
 "mark": {"type": "text", "fontSize": 26.5, "color": "#1a1a1a"}, "encoding": {"text": {"field": "c"}}},
{
"width": 1359, "height": 435,
"layer": [
{"data": {"name": "indoor"}, "mark": {"type": "line", "strokeWidth": 1.5},
 "encoding": {
  "x": {"field": "t", "type": "quantitative", "scale": {"domain": [0, 50.3], "range": [93, 1230], "nice": false, "zero": false},
   "axis": {"values": [0, 8.3333, 16.6667, 24.9861, 33.3194, 41.6528, 49.9861], "labelExpr": "datum.value < 4 ? '15.12.28 오후 02시 00분 00초' : datum.value < 12 ? '16.01.05 오후 10시 00분 00초' : datum.value < 20 ? '16.01.14 오전 06시 00분 00초' : datum.value < 29 ? '16.01.22 오후 01시 40분 00초' : datum.value < 37 ? '16.01.30 오후 09시 40분 00초' : datum.value < 45 ? '16.02.08 오전 05시 40분 00초' : '16.02.16 오후 01시 40분 00초'", "offset": -165, "grid": false, "domainColor": "#808080", "tickColor": "#555555", "tickSize": 12, "labelPadding": -4, "labelFontSize": 10.5, "labelColor": "#333333", "labelFlush": false, "labelOverlap": false, "labelBound": false, "title": ""}},
  "y": {"field": "cb", "type": "quantitative", "scale": {"domain": [-30, 50], "range": [387, 75], "nice": false, "zero": false},
   "axis": {"values": [-30, -20, -10, 0, 10, 20, 30, 40, 50], "offset": -93, "grid": true, "gridColor": "#808080", "domainColor": "#808080", "tickColor": "#808080", "tickSize": 4, "labelFontSize": 8, "labelColor": "#333333", "labelPadding": 9, "labelFlush": false, "title": "온도(℃)", "titleAngle": 90, "titleX": -45, "titleY": 212, "titleFontSize": 12, "titleFontWeight": "normal", "titleColor": "#222222", "titleAlign": "center", "titleBaseline": "middle"}},
  "color": {"datum": "생장부온도", "type": "nominal", "scale": {"domain": ["생장부온도", "전체공간온도", "외기온"], "range": ["#7ba3d3", "#e8141c", "#000000"]},
   "legend": {"orient": "none", "legendX": 1000, "legendY": 48, "title": null, "symbolType": "stroke", "symbolSize": 900, "symbolStrokeWidth": 1.2, "labelFontSize": 10, "labelColor": "#333333", "rowPadding": 2, "labelOffset": 3, "padding": 0}},
  "strokeDash": {"datum": "생장부온도", "type": "nominal", "scale": {"domain": ["생장부온도", "전체공간온도", "외기온"], "range": [[1, 0], [1, 0], [3, 2]]}}
 }},
{"data": {"name": "indoor"}, "mark": {"type": "line", "strokeWidth": 1.6},
 "encoding": {"x": {"field": "t", "type": "quantitative"}, "y": {"field": "cr", "type": "quantitative"},
  "color": {"datum": "전체공간온도", "type": "nominal"}, "strokeDash": {"datum": "전체공간온도", "type": "nominal"}}},
{"data": {"name": "outdoor"}, "mark": {"type": "line", "strokeWidth": 1},
 "encoding": {"x": {"field": "t", "type": "quantitative"}, "y": {"field": "v", "type": "quantitative"},
  "color": {"datum": "외기온", "type": "nominal"}, "strokeDash": {"datum": "외기온", "type": "nominal"}}},
{"data": {"values": [{}]}, "mark": {"type": "rect", "filled": false, "stroke": "#6a6a6a", "strokeWidth": 3},
 "encoding": {"x": {"datum": -3.406, "type": "quantitative"}, "x2": {"datum": 53.75}, "y": {"datum": 65.38, "type": "quantitative"}, "y2": {"datum": -38.21}}},
{"data": {"values": [{}]}, "mark": {"type": "rect", "filled": false, "stroke": "#000000", "strokeWidth": 1},
 "encoding": {"x": {"datum": 0, "type": "quantitative"}, "x2": {"datum": 50.3}, "y": {"datum": -30, "type": "quantitative"}, "y2": {"datum": 50}}},
{"data": {"values": [{}]}, "mark": {"type": "rect", "fill": "white", "stroke": "#000000", "strokeWidth": 1},
 "encoding": {"x": {"datum": 17.92, "type": "quantitative"}, "x2": {"datum": 33.05}, "y": {"datum": 62.31, "type": "quantitative"}, "y2": {"datum": 52.05}}},
{"data": {"values": [{"label": "전체공간 난방 대조온실 말단부"}]}, "mark": {"type": "text", "align": "left", "baseline": "middle", "fontSize": 18.5, "color": "#111111"},
 "encoding": {"x": {"datum": 18.27, "type": "quantitative"}, "y": {"datum": 57.69, "type": "quantitative"}, "text": {"field": "label"}}},
{"data": {"values": [{}]}, "mark": {"type": "rect", "fill": "white", "stroke": "#000000", "strokeWidth": 1},
 "encoding": {"x": {"datum": 38.67, "type": "quantitative"}, "x2": {"datum": 46.36}, "y": {"datum": 56.41, "type": "quantitative"}, "y2": {"datum": 38.21}}}
]
},
{"width": 1359, "height": 53, "data": {"values": [{"c": "(c)  전체공간난방 \u00a0\u00a0\u00a0\u00a0대조온실 \u00a0\u00a0\u00a0\u00a0말단부 \u00a0\u00a0\u00a0\u00a0생장부 \u00a0\u00a0\u00a0\u00a0및 \u00a0\u00a0\u00a0\u00a0전체공간 \u00a0\u00a0\u00a0\u00a0온도 \u00a0\u00a0\u00a0\u00a0비교"}]},
 "mark": {"type": "text", "fontSize": 26.5, "color": "#1a1a1a"}, "encoding": {"text": {"field": "c"}}}
]
}
